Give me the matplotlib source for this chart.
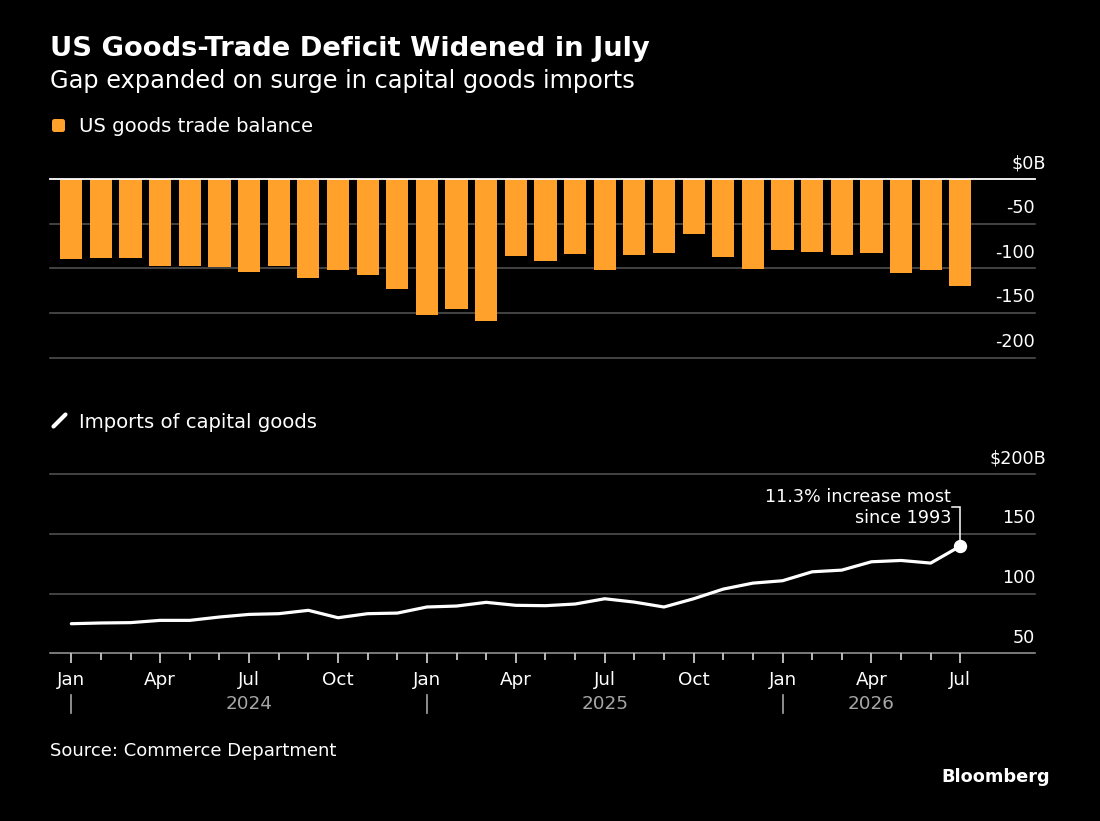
import numpy as np
import pandas as pd
import matplotlib
matplotlib.use("Agg")
import matplotlib.pyplot as plt
import matplotlib.transforms as mtransforms
from matplotlib.patches import FancyBboxPatch
from matplotlib.lines import Line2D

# ---------------- data ----------------
months = pd.period_range("2024-01", "2026-07", freq="M")

trade_balance = [-89.2, -88.4, -88.8, -97.0, -97.4, -98.1, -103.7, -97.0, -110.4, -102.2,
                 -107.1, -123.5, -151.9, -145.1, -158.9, -85.8, -91.4, -84.3, -101.5, -85.4,
                 -82.8, -61.2, -86.9, -100.7, -79.1, -81.7, -85.1, -82.5, -105.6, -101.5,
                 -119.4]

capital_imports = [74.8, 75.4, 75.7, 77.6, 77.6, 80.4, 82.6, 83.2, 86.0, 79.8,
                   83.2, 83.7, 88.8, 89.6, 92.7, 90.2, 89.9, 91.3, 95.7, 92.9,
                   88.8, 95.7, 103.8, 108.8, 110.8, 118.3, 119.7, 126.7, 127.8, 125.6,
                   139.8]

balance_ticks = [0, -50, -100, -150, -200]
balance_labels = ["$0B", "-50", "-100", "-150", "-200"]
imports_ticks = [50, 100, 150, 200]
imports_labels = ["50", "100", "150", "$200B"]
quarter_names = {1: "Jan", 4: "Apr", 7: "Jul", 10: "Oct"}

title = "US Goods-Trade Deficit Widened in July"
subtitle = "Gap expanded on surge in capital goods imports"
legend_top = "US goods trade balance"
legend_bottom = "Imports of capital goods"
annotation = ["11.3% increase most", "since 1993"]
source = "Source: Commerce Department"
brand = "Bloomberg"

# ---------------- style ----------------
BG = "black"
ORANGE = "#FFA12B"
GRID = "#555555"
AXIS = "#9a9a9a"
YEARC = "#a6a6a6"
W, H = 1100, 821

plt.rcParams["font.family"] = ["DejaVu Sans"]

fig = plt.figure(figsize=(W / 100, H / 100), dpi=100, facecolor=BG)


def rect(x0, ytop, x1, ybot):
    return [x0 / W, 1 - ybot / H, (x1 - x0) / W, (ybot - ytop) / H]


def fy(ypix):
    return 1 - ypix / H


ax1 = fig.add_axes(rect(50, 179, 1035, 357.7))
ax2 = fig.add_axes(rect(50, 474.3, 1035, 653.3))

x = np.arange(len(months))
xlim = (-0.719, 32.52)

for ax in (ax1, ax2):
    ax.set_facecolor(BG)
    for s in ax.spines.values():
        s.set_visible(False)
    ax.set_xlim(*xlim)
    ax.set_yticks([])

# ---------------- top panel: bars ----------------
ax1.bar(x, trade_balance, width=0.75, color=ORANGE, zorder=3)
ax1.set_ylim(-200, 0)
ax1.set_xticks([])
for v in balance_ticks:
    if v == 0:
        ax1.axhline(v, color="white", lw=1.3, zorder=4, clip_on=False)
    else:
        ax1.axhline(v, color=GRID, lw=1.1, zorder=1, clip_on=False)


def ylabels(ax, ticks, labels):
    base = mtransforms.blended_transform_factory(ax.transAxes, ax.transData)
    for v, lab in zip(ticks, labels):
        dx = 11 / 100 if lab.endswith("B") else 0
        tr = base + mtransforms.ScaledTranslation(dx, 10.7 / 100, fig.dpi_scale_trans)
        ax.text(1.0, v, lab, transform=tr, ha="right", va="baseline",
                color="white", fontsize=12.7)


ylabels(ax1, balance_ticks, balance_labels)

# ---------------- bottom panel: line ----------------
ax2.set_ylim(50, 200)
for v in imports_ticks:
    if v == 50:
        ax2.axhline(v, color=AXIS, lw=1.1, zorder=1, clip_on=False)
    else:
        ax2.axhline(v, color=GRID, lw=1.1, zorder=1, clip_on=False)
ylabels(ax2, imports_ticks, imports_labels)

ax2.plot(x, capital_imports, color="white", lw=2.3, solid_joinstyle="round",
         solid_capstyle="round", zorder=3)
ax2.plot([x[-1]], [capital_imports[-1]], "o", color="white", ms=8.6, zorder=5)

# annotation
ann_y1, ann_y2, con_y = 177.0, 159.2, 172.8
ax2.text(x[-1] - 0.31, ann_y1, annotation[0], ha="right", va="baseline",
         color="white", fontsize=12.7)
ax2.text(x[-1] - 0.31, ann_y2, annotation[1], ha="right", va="baseline",
         color="white", fontsize=12.7)
ax2.plot([x[-1] - 0.28, x[-1], x[-1]], [con_y, con_y, capital_imports[-1]],
         color="white", lw=1.1, zorder=4, solid_joinstyle="miter")

# x ticks
major = [i for i, m in enumerate(months) if m.month in quarter_names]
ax2.set_xticks(major)
ax2.set_xticks(x, minor=True)
ax2.set_xticklabels([])
ax2.tick_params(axis="x", which="major", length=7.2, width=1.3, color="#c8c8c8",
                direction="out")
ax2.tick_params(axis="x", which="minor", length=4.8, width=1.3, color="#c8c8c8",
                direction="out")

xt = ax2.get_xaxis_transform()
for i in major:
    tr = xt + mtransforms.ScaledTranslation(0, -31.7 / 100, fig.dpi_scale_trans)
    ax2.text(i, 0, quarter_names[months[i].month], transform=tr, ha="center",
             va="baseline", color="white", fontsize=13.2)

years = sorted(set(m.year for m in months))
axh = 653.3 - 474.3
for yr in years:
    idx = [i for i, m in enumerate(months) if m.year == yr]
    pos = (idx[0] + idx[-1] + 1) // 2
    tr = xt + mtransforms.ScaledTranslation(0, -56 / 100, fig.dpi_scale_trans)
    ax2.text(pos, 0, str(yr), transform=tr, ha="center", va="baseline",
             color=YEARC, fontsize=13.2)
    if months[idx[0]].month == 1:
        ax2.add_line(Line2D([idx[0], idx[0]], [-41.7 / axh, -59.7 / axh], transform=xt,
                            color=YEARC, lw=1.2, clip_on=False))

# ---------------- titles / legends ----------------
fig.text(50 / W, fy(56.3), title, color="white", fontsize=19.7, fontweight="bold",
         ha="left", va="baseline")
fig.text(50 / W, fy(88), subtitle, color="white", fontsize=17.3,
         ha="left", va="baseline")

fig.add_artist(FancyBboxPatch((0.52, (H - 132) / 100), 0.13, 0.13,
                              boxstyle="round,pad=0,rounding_size=0.025",
                              transform=fig.dpi_scale_trans, color=ORANGE, lw=0))
fig.text(79 / W, fy(132), legend_top, color="white", fontsize=14.1,
         ha="left", va="baseline")

fig.add_artist(Line2D([0.535, 0.655], [(H - 426.5) / 100, (H - 414.5) / 100],
                      transform=fig.dpi_scale_trans, color="white", lw=3.0,
                      solid_capstyle="round"))
fig.text(79 / W, fy(428.3), legend_bottom, color="white", fontsize=14.1,
         ha="left", va="baseline")

fig.text(50 / W, fy(756), source, color="white", fontsize=13,
         ha="left", va="baseline")
fig.text(1050 / W, fy(781.7), brand, color="white", fontsize=12.8, fontweight="bold",
         ha="right", va="baseline")

fig.savefig("out.png", dpi=100, facecolor=BG)
